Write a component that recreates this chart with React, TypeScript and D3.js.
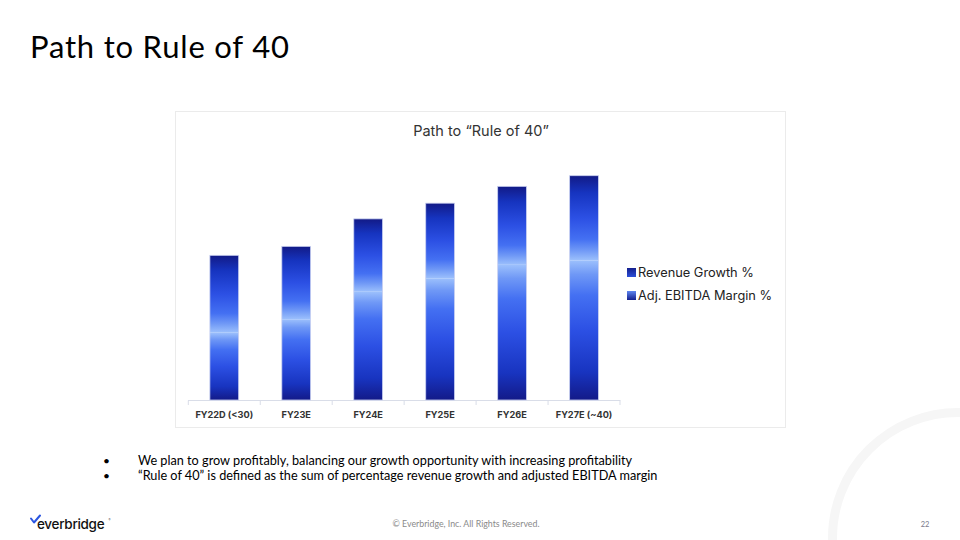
import React from "react";
import * as d3 from "d3";

const categories = ["FY22D (<30)", "FY23E", "FY24E", "FY25E", "FY26E", "FY27E (~40)"];
const revenueGrowth = [12.0, 14.4, 19.3, 21.7, 24.1, 24.9];
const ebitdaMargin = [13.8, 13.0, 13.0, 13.4, 14.0, 15.1];
const seriesNames = ["Revenue Growth %", "Adj. EBITDA Margin %"];
const bullets = [
  "We plan to grow profitably, balancing our growth opportunity with increasing profitability",
  "\u201CRule of 40\u201D is defined as the sum of percentage revenue growth and adjusted EBITDA margin",
];

const W = 960;
const H = 540;

export default function App() {
  const x = d3.scaleBand<string>().domain(categories).range([188.3, 620]).paddingInner(0.6).paddingOuter(0.3);
  const y = d3.scaleLinear().domain([0, 40]).range([400, 175.7]);
  const bw = x.bandwidth();
  const bounds = categories.map((_, i) => 188.3 + i * (620 - 188.3) / categories.length);
  bounds.push(620);

  const chartFont = "Inter, 'Noto Sans', sans-serif";
  const slideFont = "Lato, 'Open Sans', sans-serif";

  return (
    <div style={{ position: "fixed", left: 0, top: 0, width: W, height: H, background: "#fff" }}>
      <svg width={W} height={H} viewBox={`0 0 ${W} ${H}`} style={{ display: "block" }}>
        <defs>
          <linearGradient id="gTop" x1="0" y1="0" x2="0" y2="1">
            <stop offset="0" stopColor="#121a86" />
            <stop offset="0.2" stopColor="#1634c0" />
            <stop offset="0.5" stopColor="#2c50e4" />
            <stop offset="0.75" stopColor="#4470f2" />
            <stop offset="0.88" stopColor="#6f98f6" />
            <stop offset="1" stopColor="#9cc0fc" />
          </linearGradient>
          <linearGradient id="gBot" x1="0" y1="0" x2="0" y2="1">
            <stop offset="0" stopColor="#9cc0fc" />
            <stop offset="0.1" stopColor="#6f98f6" />
            <stop offset="0.25" stopColor="#4470f2" />
            <stop offset="0.5" stopColor="#2c50e4" />
            <stop offset="0.8" stopColor="#1834c0" />
            <stop offset="1" stopColor="#131a88" />
          </linearGradient>
          <linearGradient id="gLeg1" x1="0" y1="0" x2="0" y2="1">
            <stop offset="0" stopColor="#14208e" />
            <stop offset="1" stopColor="#2c4fd8" />
          </linearGradient>
          <linearGradient id="gLeg2" x1="0" y1="0" x2="0" y2="1">
            <stop offset="0" stopColor="#5f86f0" />
            <stop offset="1" stopColor="#14208e" />
          </linearGradient>
        </defs>

        {/* background arc */}
        <circle cx={958} cy={538} r={125.5} fill="none" stroke="#f6f6f6" strokeWidth={9} />

        {/* slide title */}
        <text x={30} y={57.5} fontFamily={slideFont} fontSize={31} letterSpacing={0.8} fill="#000">Path to Rule of 40</text>

        {/* chart frame */}
        <rect x={175.5} y={111.5} width={610} height={316} fill="#fff" stroke="#ebebeb" strokeWidth={1} />
        <text x={481} y={136} textAnchor="middle" fontFamily={chartFont} fontSize={14.5} fill="#333">
          Path to {"\u201CRule of 40\u201D"}
        </text>

        {/* axis */}
        <line x1={188} x2={620.5} y1={400.5} y2={400.5} stroke="#d9dde8" strokeWidth={1} />
        {bounds.map((b, i) => (
          <line key={i} x1={b} x2={b} y1={400.5} y2={405} stroke="#d9dde8" strokeWidth={1} />
        ))}

        {/* bars */}
        {categories.map((c, i) => {
          const x0 = x(c)!;
          const r = revenueGrowth[i];
          const t = r + ebitdaMargin[i];
          return (
            <g key={c}>
              <rect x={x0} y={y(r)} width={bw} height={y(0) - y(r)} fill="url(#gBot)" />
              <rect x={x0} y={y(t)} width={bw} height={y(r) - y(t)} fill="url(#gTop)" />
              <rect x={x0} y={y(t)} width={bw} height={y(0) - y(t)} fill="none" stroke="#c9d0f0" strokeWidth={0.8} />
            </g>
          );
        })}

        {/* category labels */}
        {categories.map((c) => (
          <text key={c} x={x(c)! + bw / 2} y={417.5} textAnchor="middle" fontFamily={chartFont}
            fontSize={9.2} fontWeight={700} fill="#333">{c}</text>
        ))}

        {/* legend */}
        {seriesNames.map((s, i) => (
          <g key={s} transform={`translate(627, ${268 + i * 23})`}>
            <rect x={0} y={0} width={9} height={9} fill={i === 0 ? "url(#gLeg1)" : "url(#gLeg2)"} />
            <text x={11} y={9} fontFamily={chartFont} fontSize={12.8} fill="#222">{s}</text>
          </g>
        ))}

        {/* bullets */}
        {bullets.map((b, i) => (
          <g key={i}>
            <text x={103} y={465 + i * 14.5} fontFamily={slideFont} fontSize={12} fill="#000">{"\u2022"}</text>
            <text x={138} y={465 + i * 14.5} fontFamily={slideFont} fontSize={12.7} fill="#000">{b}</text>
          </g>
        ))}

        {/* footer */}
        <path d="M31,518.5 L34,522.5 L40,515.5" fill="none" stroke="#2a55e0" strokeWidth={2} strokeLinecap="round" strokeLinejoin="round" />
        <text x={37} y={529} fontFamily="Inter, Roboto, sans-serif" fontSize={13.5} fontWeight={500} fill="#111" letterSpacing={-0.3}>everbridge</text>
        <text x={108.5} y={521} fontFamily="Inter, sans-serif" fontSize={3} fill="#555">®</text>
        <text x={466} y={527} textAnchor="middle" fontFamily={slideFont} fontSize={8.8} fill="#8a8a8a">
          © Everbridge, Inc. All Rights Reserved.
        </text>
        <text x={925} y={527} textAnchor="middle" fontFamily={slideFont} fontSize={7.5} fill="#7a7a8a">22</text>
      </svg>
    </div>
  );
}
